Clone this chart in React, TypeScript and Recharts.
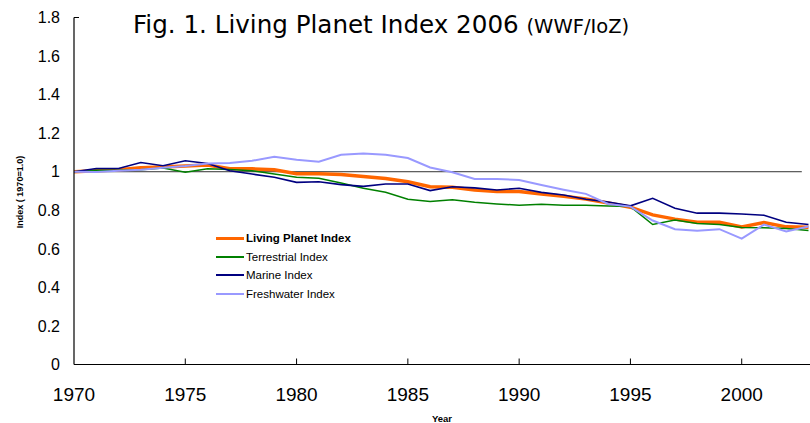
import React from 'react';
import { LineChart, Line, XAxis, YAxis, ReferenceLine, Legend } from 'recharts';

// values, 1970 = 1.0
const years = [
  1970, 1971, 1972, 1973, 1974, 1975, 1976, 1977, 1978, 1979, 1980, 1981,
  1982, 1983, 1984, 1985, 1986, 1987, 1988, 1989, 1990, 1991, 1992, 1993,
  1994, 1995, 1996, 1997, 1998, 1999, 2000, 2001, 2002, 2003,
];
const livingPlanet = [
  1.0, 1.005, 1.01, 1.02, 1.025, 1.03, 1.035, 1.015, 1.015, 1.01, 0.99, 0.99,
  0.985, 0.975, 0.965, 0.948, 0.922, 0.919, 0.905, 0.897, 0.897, 0.885, 0.873, 0.859,
  0.838, 0.816, 0.776, 0.754, 0.738, 0.738, 0.714, 0.737, 0.714, 0.712,
];
const terrestrial = [
  1.0, 1.008, 1.008, 1.01, 1.019, 0.997, 1.016, 1.011, 1.005, 0.988, 0.971, 0.966,
  0.942, 0.914, 0.893, 0.857, 0.845, 0.854, 0.842, 0.833, 0.826, 0.831, 0.826, 0.826,
  0.822, 0.819, 0.726, 0.749, 0.732, 0.726, 0.711, 0.709, 0.705, 0.695,
];
const marine = [
  1.0, 1.017, 1.017, 1.048, 1.031, 1.057, 1.043, 1.005, 0.988, 0.971, 0.945, 0.948,
  0.933, 0.924, 0.936, 0.936, 0.902, 0.922, 0.916, 0.905, 0.914, 0.893, 0.879, 0.857,
  0.843, 0.823, 0.862, 0.811, 0.785, 0.785, 0.781, 0.774, 0.738, 0.726,
];
const freshwater = [
  1.0, 0.998, 1.005, 1.01, 1.02, 1.03, 1.043, 1.045, 1.057, 1.077, 1.062, 1.052,
  1.088, 1.094, 1.088, 1.071, 1.022, 0.997, 0.962, 0.962, 0.957, 0.931, 0.907, 0.885,
  0.833, 0.819, 0.747, 0.702, 0.694, 0.702, 0.653, 0.726, 0.69, 0.716,
];

const xTicks = [1970, 1975, 1980, 1985, 1990, 1995, 2000];
const yTicks = [0, 0.2, 0.4, 0.6, 0.8, 1, 1.2, 1.4, 1.6, 1.8];

const series = [
  { key: 'living', name: 'Living Planet Index', color: '#ff6600', width: 3.5, bold: true },
  { key: 'terrestrial', name: 'Terrestrial Index', color: '#008000', width: 1.5, bold: false },
  { key: 'marine', name: 'Marine Index', color: '#000080', width: 1.6, bold: false },
  { key: 'freshwater', name: 'Freshwater Index', color: '#9999ff', width: 2, bold: false },
];

const data = years.map((year, i) => ({
  year,
  living: livingPlanet[i],
  terrestrial: terrestrial[i],
  marine: marine[i],
  freshwater: freshwater[i],
}));

const sans = '"Liberation Sans", Arial, sans-serif';

const XTick = (props: any) => {
  const { x, y, payload } = props;
  return (
    <g>
      {payload.value !== 1970 && <line x1={x} y1={y} x2={x} y2={y - 6} stroke="#000" />}
      <text x={x} y={y + 36} textAnchor="middle" fontSize={19} fontFamily={sans} fill="#000">
        {payload.value}
      </text>
    </g>
  );
};

// y labels; the top one also gets the short inward tick seen in the figure
const YTick = (props: any) => {
  const { x, y, payload } = props;
  return (
    <g>
      {payload.value === 1.8 && <line x1={x + 14} y1={y} x2={x + 19} y2={y} stroke="#000" />}
      <text x={x} y={y} dy="0.355em" textAnchor="end" fontSize={16} fontFamily={sans} fill="#000">
        {String(payload.value)}
      </text>
    </g>
  );
};

const renderLegend = () => (
  <div style={{ fontFamily: sans, fontSize: 11.5, color: '#000' }}>
    {series.map((s) => (
      <div key={s.key} style={{ display: 'flex', alignItems: 'center', height: 18.5 }}>
        <span style={{ display: 'inline-block', width: 28, height: s.width, background: s.color, marginRight: 2 }} />
        <span style={{ fontWeight: s.bold ? 'bold' : 'normal', whiteSpace: 'nowrap' }}>{s.name}</span>
      </div>
    ))}
  </div>
);

export default function App() {
  return (
    <div style={{ position: 'absolute', left: 0, top: 0, width: 810, height: 423, overflow: 'hidden', background: '#fff' }}>
      <LineChart
        width={860}
        height={423}
        data={data}
        margin={{ top: 17.5, right: 7, bottom: 28.5, left: 0 }}
      >
        <XAxis
          type="number"
          dataKey="year"
          domain={[1970, 2005]}
          ticks={xTicks}
          tick={<XTick />}
          tickLine={false}
          tickSize={0}
          tickMargin={0}
          height={30}
          axisLine={{ stroke: '#000', strokeWidth: 1.2 }}
          allowDataOverflow
        />
        <YAxis
          type="number"
          domain={[0, 1.8]}
          ticks={yTicks}
          width={74}
          tickLine={false}
          tickSize={0}
          tickMargin={14}
          tick={<YTick />}
          axisLine={{ stroke: '#000', strokeWidth: 1.2 }}
        />
        <ReferenceLine
          segment={[{ x: 1970, y: 1 }, { x: 2002.7, y: 1 }]}
          stroke="#333"
          strokeWidth={1}
        />
        {series.map((s) => (
          <Line
            key={s.key}
            type="linear"
            dataKey={s.key}
            name={s.name}
            stroke={s.color}
            strokeWidth={s.width}
            dot={false}
            activeDot={false}
            isAnimationActive={false}
          />
        ))}
        <Legend
          layout="vertical"
          align="center"
          verticalAlign="middle"
          content={renderLegend}
          wrapperStyle={{ left: 216, top: 229, width: 160, height: 76 }}
        />
      </LineChart>
      <svg
        width={810}
        height={423}
        style={{ position: 'absolute', left: 0, top: 0, pointerEvents: 'none' }}
      >
        <text x={133} y={33} fontFamily='"DejaVu Sans", sans-serif' fontSize={24.6} fill="#000">
          Fig. 1. Living Planet Index 2006{' '}
          <tspan fontSize={19.5}>(WWF/IoZ)</tspan>
        </text>
        <text
          x={22.5}
          y={192}
          transform="rotate(-90 22.5 192)"
          textAnchor="middle"
          fontFamily={sans}
          fontSize={9}
          fontWeight="bold"
          fill="#000"
        >
          Index ( 1970=1.0)
        </text>
        <text x={442} y={421.5} textAnchor="middle" fontFamily={sans} fontSize={9.5} fontWeight="bold" fill="#000">
          Year
        </text>
      </svg>
    </div>
  );
}
